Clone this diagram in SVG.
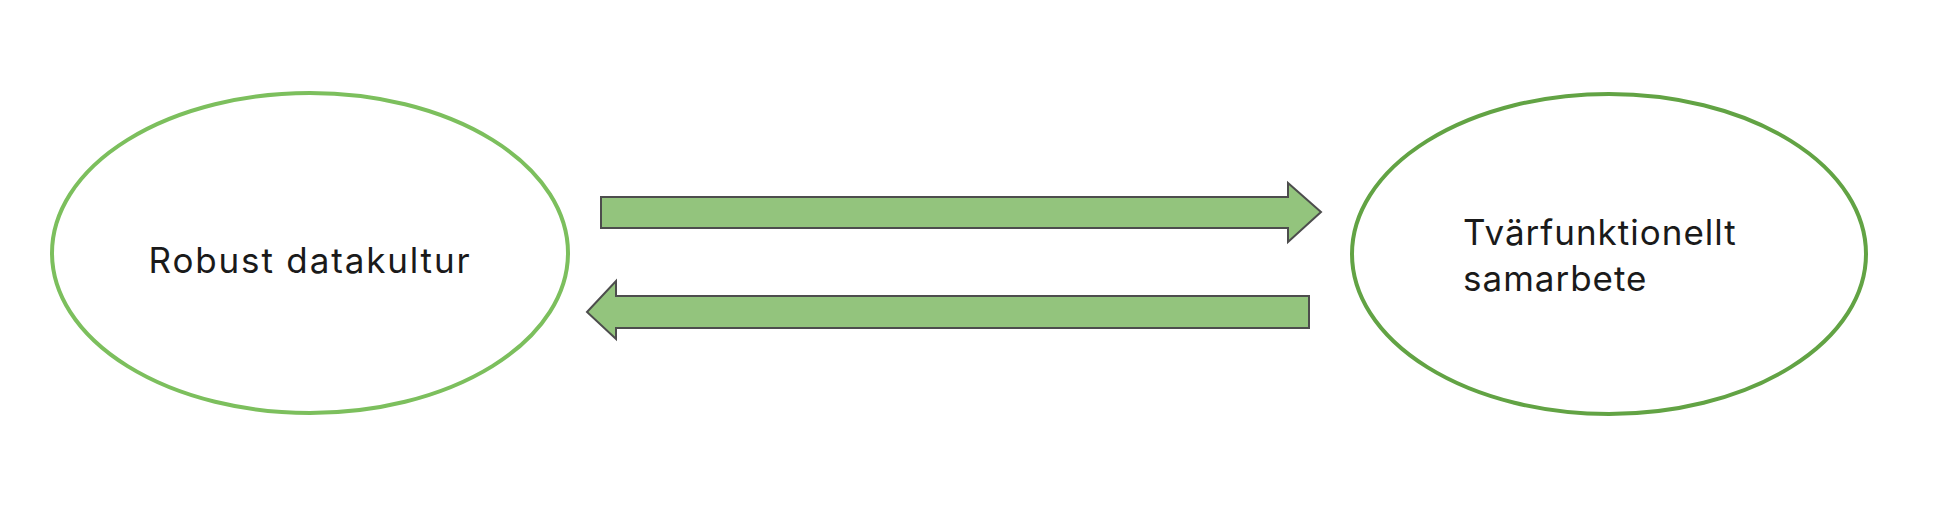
<svg xmlns="http://www.w3.org/2000/svg" width="1951" height="528" viewBox="0 0 1951 528">
<style>
.lbl{font-family:Inter,"Open Sans","Liberation Sans",sans-serif;font-size:35px;fill:#1a1a1a}
.arrow{fill:#93c47d;stroke:#4d4d4d;stroke-width:2;stroke-linejoin:miter}
</style>
<rect width="1951" height="528" fill="#ffffff"/>
<g id="node-robust">
<ellipse cx="310" cy="253" rx="258" ry="160" fill="#ffffff" stroke="#7cbf5d" stroke-width="4"/>
<text class="lbl" x="310" y="273" text-anchor="middle" letter-spacing="1.85">Robust datakultur</text>
</g>
<g id="node-tvarfunktionellt">
<ellipse cx="1609" cy="254" rx="257" ry="160" fill="#ffffff" stroke="#62a344" stroke-width="4"/>
<text class="lbl" x="1463" y="245" letter-spacing="1">Tvärfunktionellt</text>
<text class="lbl" x="1463" y="291" letter-spacing="1">samarbete</text>
</g>
<g id="connectors">
<polygon class="arrow" points="601,197 1288,197 1288,183 1321,212 1288,242 1288,228 601,228"/>
<polygon class="arrow" points="1309,296 616,296 616,281 587,312 616,339 616,328 1309,328"/>
</g>
</svg>
